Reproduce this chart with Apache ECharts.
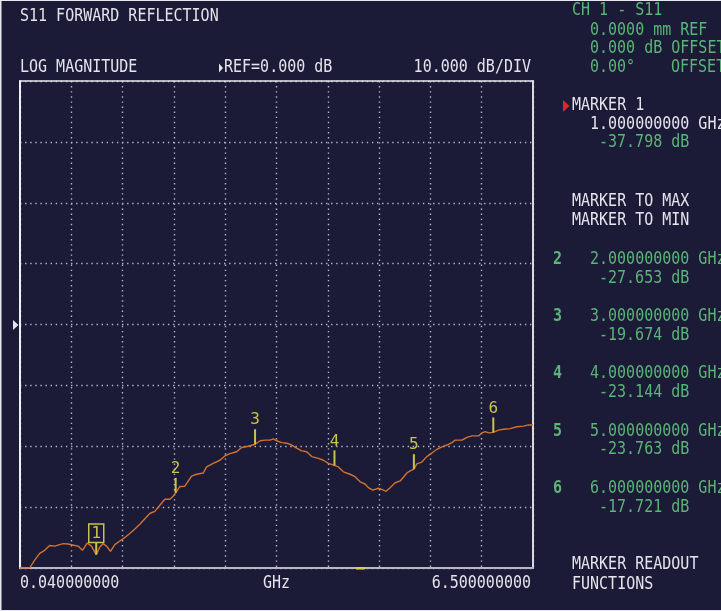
<!DOCTYPE html>
<html>
<head>
<meta charset="utf-8">
<script src="https://cdn.jsdelivr.net/npm/echarts@6/dist/echarts.min.js"></script>
<style>
html,body{margin:0;padding:0;background:#1b1a37;}
#chart{width:721px;height:611px;}
</style>
</head>
<body>
<div id="chart"></div>
<script>
// ---- data ----
var freqGHz = [0.04,0.162,0.225,0.288,0.351,0.414,0.477,0.540,0.582,0.645,0.730,0.771,0.827,0.885,0.940,1.0,
  1.045,1.086,1.129,1.180,1.234,1.297,1.360,1.423,1.486,1.549,1.612,1.675,1.738,1.801,1.864,1.927,1.969,2.0,
  2.053,2.116,2.158,2.201,2.264,2.347,2.390,2.473,2.557,2.620,2.682,2.768,2.831,2.914,3.0,
  3.064,3.127,3.188,3.230,3.272,3.335,3.398,3.461,3.525,3.588,3.650,3.714,3.797,3.860,3.923,4.0,
  4.049,4.112,4.196,4.259,4.323,4.385,4.427,4.483,4.553,4.596,4.650,4.701,4.764,4.827,4.868,4.911,4.953,5.0,
  5.037,5.100,5.163,5.227,5.290,5.353,5.416,5.479,5.520,5.605,5.668,5.731,5.814,5.857,5.899,5.941,6.0,
  6.066,6.129,6.213,6.297,6.381,6.444,6.5];
var traceDb = [-40,-40,-38.7,-37.6,-37.1,-36.3,-36.4,-36.15,-36.0,-36.05,-36.3,-36.4,-37.1,-35.9,-36.4,-37.798,
  -36.55,-36.0,-36.4,-37.25,-36.15,-35.56,-35.0,-34.34,-33.6,-32.8,-31.9,-31.05,-30.7,-29.7,-28.7,-28.7,-28.2,-27.653,
  -26.6,-26.56,-25.74,-24.9,-24.6,-24.4,-23.4,-22.8,-22.3,-21.6,-21.2,-20.9,-20.2,-20.0,-19.674,
  -19.1,-19.0,-19.0,-18.8,-19.1,-19.4,-19.5,-19.8,-20.3,-20.75,-20.9,-21.7,-22.0,-22.3,-22.8,-23.144,
  -23.4,-24.2,-24.6,-25.0,-25.85,-26.2,-26.8,-27.2,-26.9,-27.1,-27.4,-26.8,-26.0,-25.7,-25.1,-24.4,-24.05,-23.763,
  -22.9,-22.6,-21.7,-21.1,-20.5,-20.1,-19.8,-19.4,-19.0,-19.0,-18.55,-18.3,-18.3,-17.8,-17.6,-17.8,-17.721,
  -17.35,-17.2,-17.1,-16.8,-16.7,-16.5,-16.5];
var markerIds = ['1','2','3','4','5','6'];
var markerFreq = [1.0,2.0,3.0,4.0,5.0,6.0];
var markerDb = [-37.798,-27.653,-19.674,-23.144,-23.763,-17.721];
var startFreqLabel = '0.040000000';
var stopFreqLabel = '6.500000000';
var freqUnitLabel = 'GHz';
var yMin = -40, yMax = 40, yStep = 10;
var xMin = 0.04, xMax = 6.5;

// ---- styles ----
var BG = '#1b1a37', WHITE = '#e4e4ec', GREEN = '#5ab676', MC = '#c8c44a', TRACE = '#d4722c';
var FONT = "15px 'DejaVu Sans Mono', monospace";

var traceData = freqGHz.map(function (f, i) { return [f, traceDb[i]]; });
var markerData = markerFreq.map(function (f, i) { return [f, markerDb[i]]; });

function T(text, x, y, color, align, bold) {
  return {
    type: 'text', x: x, y: y, scaleY: 1.15,
    style: { text: text, x: 0, y: 0, fill: color, font: (bold ? 'bold ' : '') + FONT,
      align: align || 'left', verticalAlign: 'middle' },
    z: 100
  };
}

var panel = [
  T('S11 FORWARD REFLECTION', 20, 17, WHITE),
  T('LOG MAGNITUDE', 20, 68, WHITE),
  T('REF=0.000 dB', 224, 68, WHITE),
  T('10.000 dB/DIV', 531, 68, WHITE, 'right'),
  T('CH 1 - S11', 572, 11, GREEN),
  T('0.0000 mm REF', 590, 30.5, GREEN),
  T('0.000 dB OFFSET', 590, 49, GREEN),
  T('0.00°', 590, 67.5, GREEN),
  T('OFFSET', 671, 67.5, GREEN),
  T('MARKER 1', 572, 106, WHITE),
  T('1.000000000 GHz', 590, 124.5, WHITE),
  T('-37.798 dB', 599, 143, GREEN),
  T('MARKER TO MAX', 572, 201.5, WHITE),
  T('MARKER TO MIN', 572, 221, WHITE),
  T('MARKER READOUT', 572, 565, WHITE),
  T('FUNCTIONS', 572, 585, WHITE),
  T(startFreqLabel, 20, 583.5, WHITE),
  T(freqUnitLabel, 263, 583.5, WHITE),
  T(stopFreqLabel, 531, 583.5, WHITE, 'right'),
  { type: 'polygon', shape: { points: [[219, 63.5], [223, 68], [219, 72.5]] }, style: { fill: WHITE }, z: 100 },
  { type: 'polygon', shape: { points: [[563, 100], [569.5, 106], [563, 112]] }, style: { fill: '#e02626' }, z: 100 },
  { type: 'polygon', shape: { points: [[13, 320], [18.5, 325], [13, 330]] }, style: { fill: WHITE }, z: 100 },
  { type: 'rect', shape: { x: 356, y: 567, width: 9, height: 2.5 }, style: { fill: '#d8d040' }, z: 100 },
  { type: 'rect', shape: { x: 0, y: 0, width: 1.5, height: 611 }, style: { fill: '#e8e8f0' }, z: 100 },
  { type: 'rect', shape: { x: 0, y: 0, width: 721, height: 1 }, style: { fill: '#e8e8f0' }, z: 100 },
  { type: 'rect', shape: { x: 0, y: 610, width: 721, height: 1 }, style: { fill: '#e8e8f0' }, z: 100 }
];
// marker readout rows 2..6
for (var i = 1; i < markerIds.length; i++) {
  var yc = 259.5 + (i - 1) * 57.2;
  panel.push(T(markerIds[i], 553, yc, GREEN, 'left', true));
  panel.push(T(markerFreq[i].toFixed(9) + ' GHz', 590, yc, GREEN));
  panel.push(T(markerDb[i].toFixed(3) + ' dB', 599, yc + 18.8, GREEN));
}

var grid = { left: 20, top: 81, width: 513, height: 487 };
var dotted = { color: '#b6b6c6', width: 1.4, type: [1.4, 3.7] };

var option = {
  backgroundColor: BG,
  animation: false,
  grid: grid,
  xAxis: [
    { type: 'value', min: xMin, max: xMax, position: 'bottom',
      axisLine: { show: true, onZero: false, lineStyle: { color: '#b8b8c4', width: 2 } },
      axisTick: { show: false }, axisLabel: { show: false }, splitLine: { show: false } },
    { type: 'value', min: 0, max: 10, interval: 1, position: 'top',
      axisLine: { show: true, onZero: false, lineStyle: { color: '#e8e8f0', width: 1.5 } },
      axisTick: { show: false }, axisLabel: { show: false },
      splitLine: { show: true, lineStyle: dotted } }
  ],
  yAxis: [
    { type: 'value', min: yMin, max: yMax, interval: yStep, position: 'left',
      axisLine: { show: true, onZero: false, lineStyle: { color: '#f0f0f6', width: 2 } },
      axisTick: { show: false }, axisLabel: { show: false },
      splitLine: { show: true, lineStyle: dotted } },
    { type: 'value', min: yMin, max: yMax, position: 'right',
      axisLine: { show: true, onZero: false, lineStyle: { color: '#d8d8e0', width: 2 } },
      axisTick: { show: false }, axisLabel: { show: false }, splitLine: { show: false } }
  ],
  series: [
    { type: 'line', xAxisIndex: 0, yAxisIndex: 0, data: traceData, showSymbol: false, symbol: 'none',
      lineStyle: { color: TRACE, width: 1.4 }, clip: true, z: 5 },
    { type: 'custom', xAxisIndex: 0, yAxisIndex: 0, data: markerData, z: 6,
      renderItem: function (params, api) {
        var p = api.coord([api.value(0), api.value(1)]);
        var id = markerIds[params.dataIndex];
        var mf = "16px 'DejaVu Sans Mono', monospace";
        if (params.dataIndex === 0) {
          return { type: 'group', children: [
            { type: 'line', shape: { x1: p[0], y1: p[1], x2: p[0], y2: p[1] - 12 }, style: { stroke: MC, lineWidth: 2 } },
            { type: 'rect', shape: { x: p[0] - 7.5, y: p[1] - 30.5, width: 15, height: 18.5 }, style: { fill: 'none', stroke: MC, lineWidth: 1.5 } },
            { type: 'text', style: { text: id, x: p[0], y: p[1] - 21, align: 'center', verticalAlign: 'middle', fill: MC, font: mf } }
          ] };
        }
        return { type: 'group', children: [
          { type: 'line', shape: { x1: p[0], y1: p[1], x2: p[0], y2: p[1] - 15 }, style: { stroke: MC, lineWidth: 2 } },
          { type: 'text', style: { text: id, x: p[0], y: p[1] - 24, align: 'center', verticalAlign: 'middle', fill: MC, font: mf } }
        ] };
      } }
  ],
  graphic: panel
};

var chart = echarts.init(document.getElementById('chart'), null, { renderer: 'canvas' });
chart.setOption(option);
</script>
</body>
</html>
